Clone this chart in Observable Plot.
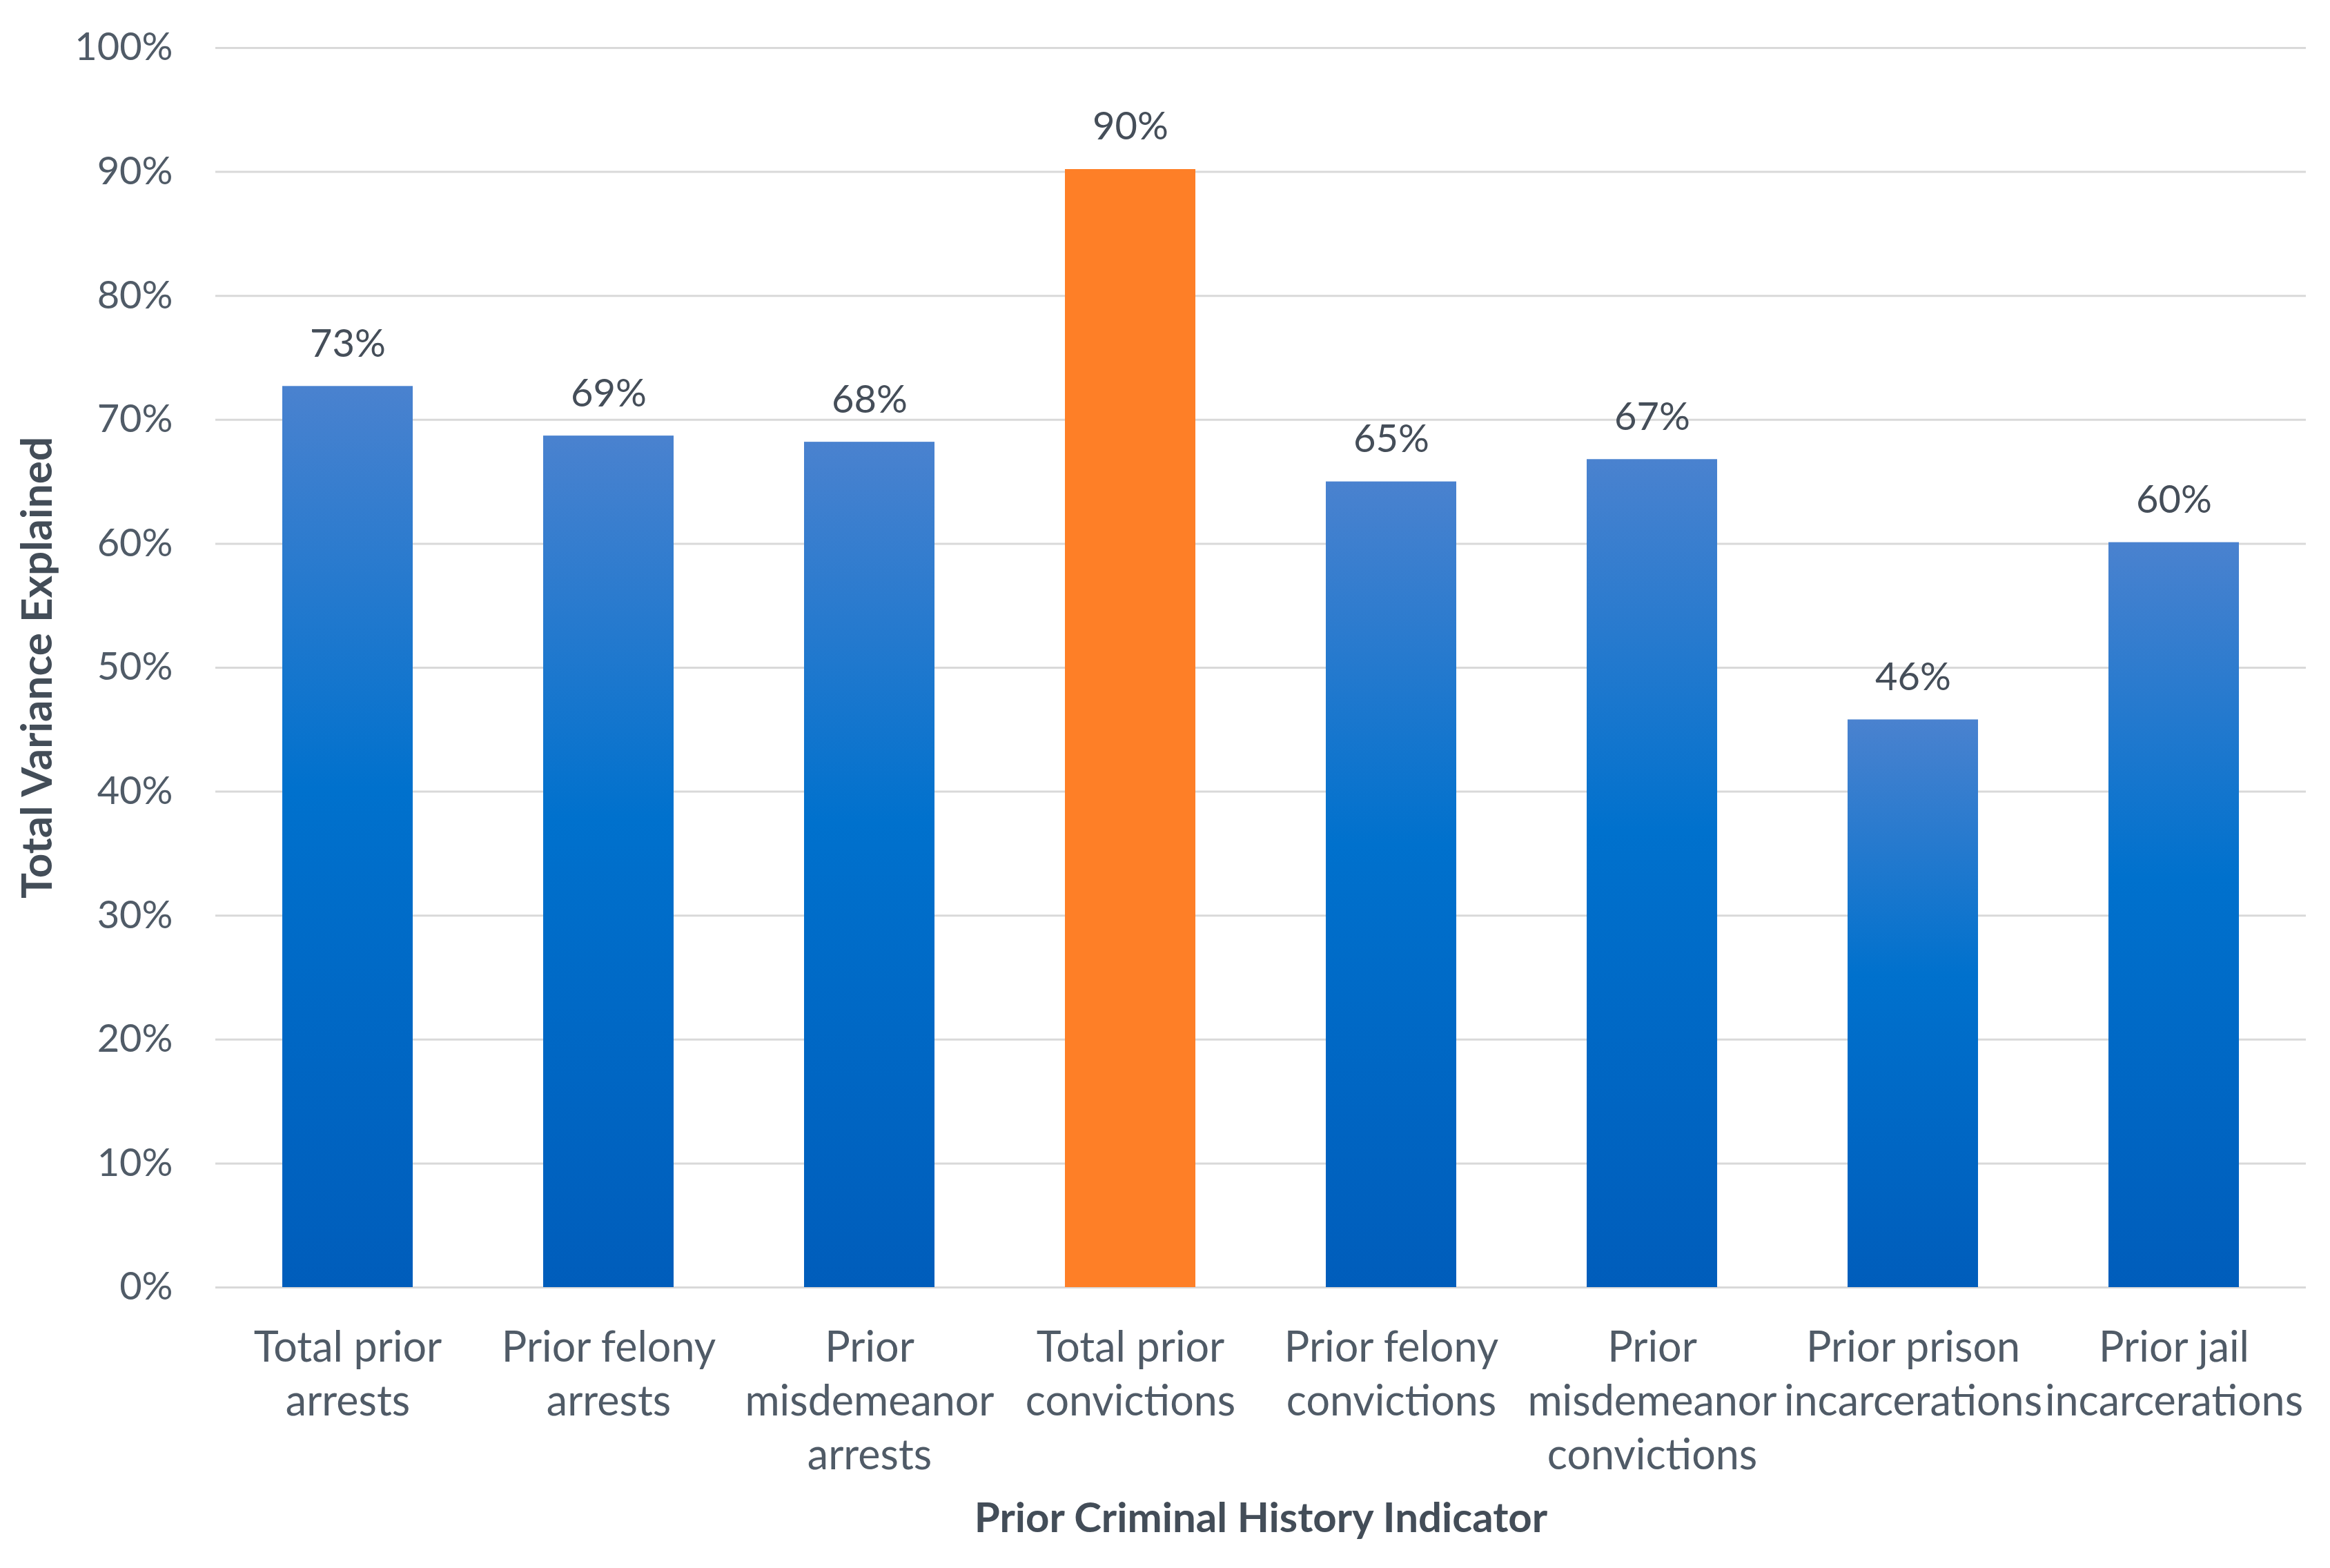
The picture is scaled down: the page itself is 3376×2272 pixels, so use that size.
<!DOCTYPE html>
<html>
<head>
<meta charset="utf-8">
<script src="https://cdn.jsdelivr.net/npm/d3@7"></script>
<script src="https://cdn.jsdelivr.net/npm/@observablehq/plot@0.6"></script>
<style>
  html, body { margin: 0; padding: 0; background: #ffffff; }
  #chart { width: 3376px; height: 2272px; }
</style>
</head>
<body>
<div id="chart"></div>
<script>
// ---- data ----
const categories = [
  "Total prior arrests",
  "Prior felony arrests",
  "Prior misdemeanor arrests",
  "Total prior convictions",
  "Prior felony convictions",
  "Prior misdemeanor convictions",
  "Prior prison incarcerations",
  "Prior jail incarcerations"
];
const tickLabels = [
  "Total prior\narrests",
  "Prior felony\narrests",
  "Prior\nmisdemeanor\narrests",
  "Total prior\nconvictions",
  "Prior felony\nconvictions",
  "Prior\nmisdemeanor\nconvictions",
  "Prior prison\nincarcerations",
  "Prior jail\nincarcerations"
];
const values = [0.727, 0.687, 0.682, 0.902, 0.650, 0.668, 0.458, 0.601];
const highlighted = ["Total prior convictions"];
const yTicks = [0, 0.1, 0.2, 0.3, 0.4, 0.5, 0.6, 0.7, 0.8, 0.9, 1.0];
const xTitle = "Prior Criminal History Indicator";
const yTitle = "Total Variance Explained";

const data = categories.map((c, i) => ({category: c, value: values[i], hi: highlighted.includes(c)}));
const labelOf = new Map(categories.map((c, i) => [c, tickLabels[i]]));
const pct = d3.format(".0%");

const plot = Plot.plot({
  width: 3376,
  height: 2272,
  marginTop: 69,
  marginBottom: 407,
  marginLeft: 312,
  marginRight: 35,
  style: {fontFamily: "Lato, 'Open Sans', sans-serif", color: "#505b67", background: "#ffffff"},
  x: {domain: categories, paddingInner: 0.5, paddingOuter: 0.25, label: null},
  y: {domain: [0, 1], label: null},
  marks: [
    Plot.gridY(yTicks, {stroke: "#d9d9d9", strokeOpacity: 1, strokeWidth: 3}),
    Plot.barY(data.filter(d => !d.hi), {x: "category", y: "value", fill: "#0070cc", className: "blue-bars"}),
    Plot.barY(data.filter(d => d.hi), {x: "category", y: "value", fill: "#fe7f27"}),
    Plot.text(data, {x: "category", y: "value", text: d => pct(d.value), dy: -61, fontSize: 56, fill: "#454e59", lineAnchor: "middle"}),
    Plot.axisY({ticks: yTicks, tickSize: 0, tickPadding: 62, tickFormat: pct, fontSize: 56, label: null}),
    Plot.axisX({tickSize: 0, tickPadding: 52, tickFormat: d => labelOf.get(d), fontSize: 61, lineHeight: 1.28, label: null}),
    Plot.text([xTitle], {frameAnchor: "bottom", dy: 335, lineAnchor: "middle", textAnchor: "middle", fontSize: 60, fontWeight: "bold", fill: "#434d58"}),
    Plot.text([yTitle], {frameAnchor: "left", dx: -257, rotate: -90, textAnchor: "middle", lineAnchor: "middle", fontSize: 62, fontWeight: "bold", fill: "#434d58"})
  ]
});

// vertical gradient fill for the blue bars (per-bar, like the original)
const svg = d3.select(plot);
const defs = svg.insert("defs", ":first-child");
const grad = defs.append("linearGradient")
  .attr("id", "blueGrad").attr("x1", 0).attr("y1", 0).attr("x2", 0).attr("y2", 1);
grad.append("stop").attr("offset", "0%").attr("stop-color", "#4a82cf");
grad.append("stop").attr("offset", "45%").attr("stop-color", "#0071cd");
grad.append("stop").attr("offset", "100%").attr("stop-color", "#005dbb");
svg.selectAll("g.blue-bars").attr("fill", "url(#blueGrad)");
svg.selectAll("g.blue-bars rect").attr("fill", "url(#blueGrad)");

document.getElementById("chart").appendChild(plot);
</script>
</body>
</html>
